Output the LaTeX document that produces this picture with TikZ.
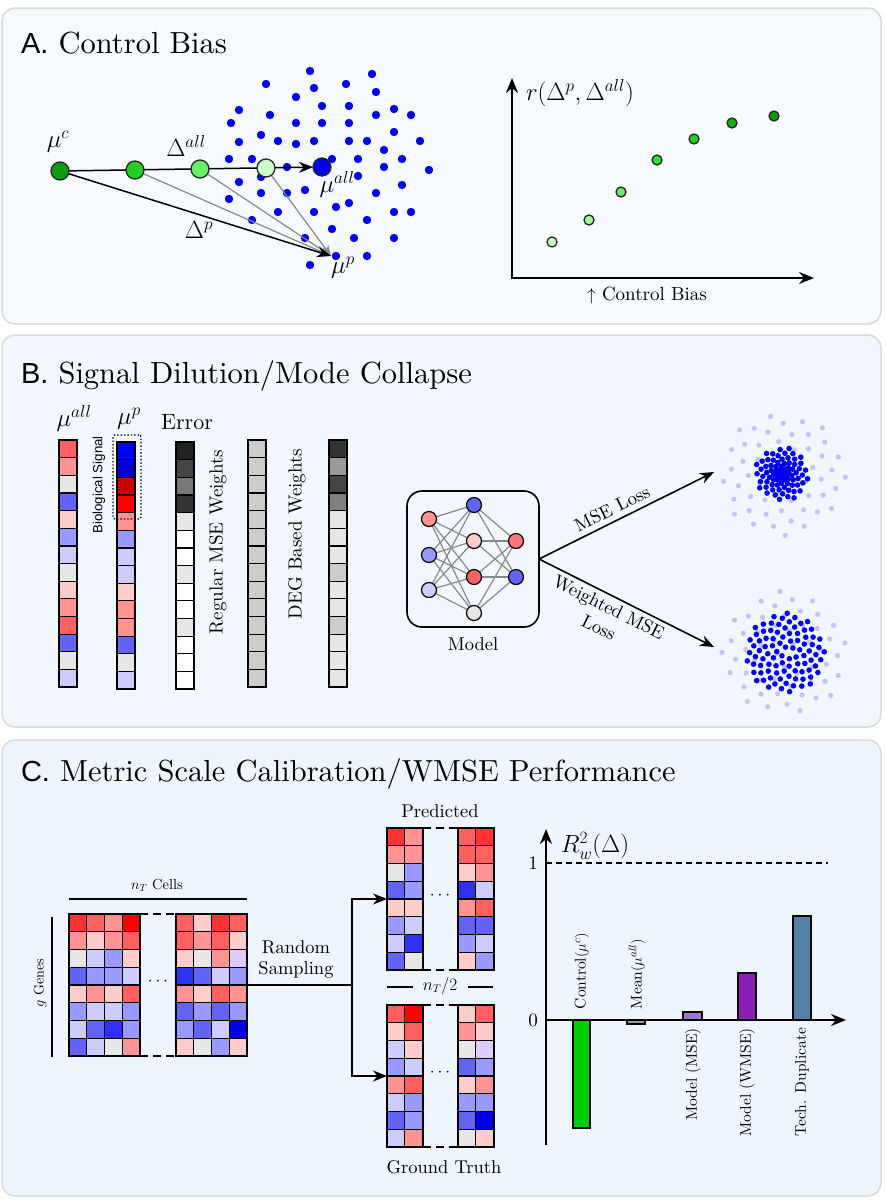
\documentclass[tikz,border=0pt]{standalone}
\usepackage{fontspec}
\setmainfont{lmroman10-regular}[Extension=.otf]
\newfontfamily\hel{Liberation Sans}
\usetikzlibrary{arrows.meta}
\pgfdeclarelayer{back}\pgfdeclarelayer{mid}\pgfsetlayers{back,mid,main}
\definecolor{pA}{HTML}{F6F9FD}
\definecolor{pB}{HTML}{F2F7FD}
\definecolor{pC}{HTML}{EEF5FD}
\definecolor{pE}{HTML}{DADADA}
\definecolor{R1}{HTML}{FF0000}
\definecolor{R2}{HTML}{FF3333}
\definecolor{R3}{HTML}{FF6060}
\definecolor{R4}{HTML}{FF9494}
\definecolor{R5}{HTML}{FFCCCC}
\definecolor{G0}{HTML}{E6E6E6}
\definecolor{B5}{HTML}{CCCCFF}
\definecolor{B4}{HTML}{9999FF}
\definecolor{B3}{HTML}{6363F5}
\definecolor{B2}{HTML}{3030F5}
\definecolor{B1}{HTML}{0000E6}
\definecolor{LV}{HTML}{E0CCFF}
\definecolor{DR}{HTML}{CC0000}
\definecolor{DB}{HTML}{0000CC}
\definecolor{BB}{HTML}{0000FF}
\definecolor{K1}{HTML}{222222}
\definecolor{K2}{HTML}{444444}
\definecolor{K3}{HTML}{777777}
\definecolor{K4}{HTML}{333333}
\definecolor{K5}{HTML}{999999}
\definecolor{K6}{HTML}{808080}
\definecolor{GC}{HTML}{CCCCCC}
\definecolor{WW}{HTML}{FFFFFF}
\definecolor{gr1}{HTML}{CCFFCC}
\definecolor{gr2}{HTML}{99FF99}
\definecolor{gr3}{HTML}{66F066}
\definecolor{gr4}{HTML}{33DD33}
\definecolor{gr5}{HTML}{22D022}
\definecolor{gr6}{HTML}{11B011}
\definecolor{gr7}{HTML}{119911}
\definecolor{dotb}{HTML}{0000EE}
\definecolor{ldot}{HTML}{C3C3F5}
\definecolor{cctrl}{HTML}{00CC00}
\definecolor{cmean}{HTML}{999999}
\definecolor{cmse}{HTML}{9B77D0}
\definecolor{cwmse}{HTML}{8A1FB8}
\definecolor{ctech}{HTML}{5380A8}
\definecolor{edgeg}{HTML}{888888}
\newcommand\fsz[2]{\fontsize{#1}{#2}\selectfont}
% column of cells: x, y, list
\newcommand\colcells[3]{%
  \foreach \cc [count=\k from 0] in {#3} {%
    \filldraw[fill=\cc, draw=black, line width=1.2pt] (#1,{#2+\k*17.65}) rectangle ++(18,17.65);}}
% heat block: x, y, rows
\newcommand\heatblock[3]{%
  \foreach \row [count=\r from 0] in {#3} {%
    \foreach \cc [count=\k from 0] in \row {%
      \filldraw[fill=\cc, draw=black, line width=1.2pt] ({#1+\k*17.75},{#2+\r*17.75}) rectangle ++(17.75,17.75);}}}
\begin{document}
\begin{tikzpicture}[x=1pt,y=-1pt,
  every node/.style={inner sep=0pt, outer sep=0pt},
  panel/.style={draw=pE, line width=1.5pt, rounded corners=13pt},
  arr/.style={line width=1.6pt, -{Stealth[length=14pt,width=11pt]}},
  garr/.style={line width=1.2pt, draw=edgeg, -{Stealth[length=11pt,width=9pt]}},
  axis/.style={line width=1.8pt, {Stealth[length=15pt,width=12pt]}-{Stealth[length=15pt,width=12pt]}},
  gnode/.style={circle, draw=black!85, line width=1.3pt, minimum size=18pt},
  pnode/.style={circle, draw=black!85, line width=1.3pt, minimum size=10pt},
  neuron/.style={circle, draw=black, line width=1.2pt, minimum size=15pt},
  colbox/.style={draw=black, line width=1.8pt, minimum width=18pt, minimum height=247pt},
  hbox/.style={draw=black, line width=2pt, minimum height=142pt},
  title/.style={anchor=base west, font=\fsz{30.5}{34}},
  lab/.style={font=\fsz{18.5}{21}},
  blab/.style={font=\fsz{15.5}{18}, rotate=90},
  dashln/.style={line width=2pt, dash pattern=on 8pt off 5pt},
]
\useasboundingbox (0,0) rectangle (884,1200);
\begin{pgfonlayer}{back}
\fill[white] (0,0) rectangle (884,1200);
\filldraw[panel, fill=pA] (2,8) rectangle (881,324);
\filldraw[panel, fill=pB] (2,335) rectangle (881,727);
\filldraw[panel, fill=pC] (2,740) rectangle (881,1196);
% panel A blue cloud
\foreach \x/\y in {310/71,372/74,266/84,314/88,346/84,376/92,296/97,239/110,322/106,349/106,270/115,376/115,394/109,411/115,231/123,296/123,322/123,349/123,394/132,239/142,261/135,278/141,296/144,314/141,349/141,367/141,420/141,384/150,229/159,252/159,332/159,358/159,402/159,384/167,429/170,287/167,261/177,358/176,239/182,305/190,261/193,287/193,376/193,402/185,229/199,336/207,349/203,278/212,314/212,394/212,411/212,252/220,367/220,332/229,305/238,354/238,394/238,336/256,367/256,310/265}
  \fill[dotb] (\x,\y) circle (4.2pt);
% panel B clouds
\foreach \i in {1,...,56} {
  \pgfmathsetmacro\rr{63*sqrt(\i/56)}
  \pgfmathsetmacro\aa{\i*137.508}
  \fill[ldot] ({783+\rr*cos(\aa)},{474+\rr*sin(\aa)}) circle (2.6pt);
  \fill[ldot] ({785+\rr*cos(\aa+40)},{653+\rr*sin(\aa+40)}) circle (2.6pt);
}
\foreach \i in {1,...,80} {
  \pgfmathsetmacro\rr{27*(\i/80)^0.75}
  \pgfmathsetmacro\aa{\i*137.508}
  \fill[dotb] ({782+\rr*cos(\aa)},{474+\rr*sin(\aa)}) circle (2.8pt);
}
\foreach \i in {1,...,92} {
  \pgfmathsetmacro\ra{40*sqrt(\i/92)}
  \pgfmathsetmacro\aa{\i*137.508}
  \fill[dotb] ({785+\ra*cos(\aa)},{653+\ra*sin(\aa)}) circle (2.8pt);
}
\end{pgfonlayer}

% ---------- Panel A ----------
\node[title] (tA) at (21,53) {{\hel\fsz{29}{34}A.} Control Bias};
\node[gnode, fill=gr7] (muc) at (60,171) {};
\node[gnode, fill=gr5] (c2) at (135,170) {};
\node[gnode, fill=gr3] (c3) at (200,169) {};
\node[gnode, fill=gr1] (c4) at (266,168) {};
\node[circle, draw=black!85, line width=1.3pt, minimum size=18pt, fill=dotb] (muall) at (322,167) {};
\coordinate (mup) at (331,256);
\begin{pgfonlayer}{mid}
\draw[garr] (c2) -- (mup);
\draw[garr] (c3) -- (mup);
\draw[garr] (c4) -- (mup);
\draw[arr, line width=1.5pt] (muc) -- (mup);
\draw[arr, line width=1.5pt] (muc) -- (muall);
\end{pgfonlayer}
\node[font=\fsz{23}{25}] (lmuc) at (58,142) {$\mu^c$};
\node[font=\fsz{23}{25}] (ldall) at (186,146) {$\Delta^{all}$};
\node[font=\fsz{23}{25}] (ldp) at (199,230) {$\Delta^{p}$};
\node[font=\fsz{23}{25}] (lmuall) at (337,184) {$\mu^{all}$};
\node[font=\fsz{23}{25}] (lmup) at (343,268) {$\mu^{p}$};

\coordinate (aO) at (512,278);
\coordinate (aY) at (512,78);
\coordinate (aX) at (814,278);
\draw[axis] (aY) -- (aO) -- (aX);
\node[anchor=west, font=\fsz{25}{27}] (lr) at (526,93) {$r(\Delta^p,\Delta^{all})$};
\node[font=\fsz{19}{22}] (lcb) at (647,295) {$\uparrow$ Control Bias};
\node[pnode, fill=gr1] (p1) at (552,242) {};
\node[pnode, fill=gr2] (p2) at (589,220) {};
\node[pnode, fill=gr3] (p3) at (621,192) {};
\node[pnode, fill=gr4] (p4) at (657,160) {};
\node[pnode, fill=gr5] (p5) at (694,139) {};
\node[pnode, fill=gr6] (p6) at (732,123) {};
\node[pnode, fill=gr7] (p7) at (774,116) {};

% ---------- Panel B ----------
\node[title] (tB) at (21,383) {{\hel\fsz{29}{34}B.} Signal Dilution/Mode Collapse};
\node[font=\fsz{23}{25}] (lall) at (74,418) {$\mu^{all}$};
\node[font=\fsz{23}{25}] (lp) at (129,419) {$\mu^{p}$};
\node[anchor=base, font=\fsz{22}{24}] (lerr) at (187,429) {Error};
\begin{pgfonlayer}{mid}
\colcells{59}{440}{R3,R4,G0,B3,R5,B4,B5,G0,R5,R4,R3,B3,G0,B5}
\colcells{117}{442}{BB,DB,DR,R1,R4,B4,B5,B5,R5,R4,R4,B3,G0,B5}
\colcells{176}{442}{K1,K2,K3,K4,G0,WW,WW,G0,WW,WW,G0,WW,WW,WW}
\colcells{248}{440}{GC,GC,GC,GC,GC,GC,GC,GC,GC,GC,GC,GC,GC,GC}
\colcells{329}{440}{K4,K5,K2,K6,G0,G0,G0,GC,G0,G0,GC,G0,G0,G0}
\end{pgfonlayer}
\node[colbox] (cAll) at (68,563.5) {};
\node[colbox] (cP) at (126,565.5) {};
\node[colbox] (cErr) at (185,565.5) {};
\node[colbox] (cReg) at (257,563.5) {};
\node[colbox] (cDeg) at (338,563.5) {};
\node[draw, dotted, line width=1.4pt, minimum width=28pt, minimum height=84pt, rounded corners=2pt] (bio) at (127,477) {};
\node[rotate=90, font=\hel\fsz{13.3}{15}] (lbio) at (99,485) {Biological Signal};
\node[rotate=90, font=\fsz{19}{22}] (lreg) at (218,542) {Regular MSE Weights};
\node[rotate=90, font=\fsz{19}{22}] (ldeg) at (297,534) {DEG Based Weights};

% model
\node[draw=black, line width=1.6pt, rounded corners=15pt, minimum width=132pt, minimum height=136pt] (mbox) at (473,559) {};
\node[neuron, fill=R4] (n11) at (429,519) {};
\node[neuron, fill=B4] (n12) at (429,555) {};
\node[neuron, fill=B5] (n13) at (429,590) {};
\node[neuron, fill=B3] (n21) at (474,505) {};
\node[neuron, fill=R5] (n22) at (474,541) {};
\node[neuron, fill=R3] (n23) at (474,577) {};
\node[neuron, fill=G0] (n24) at (474,613) {};
\node[neuron, fill=R3!85!white] (n31) at (516,541) {};
\node[neuron, fill=B3] (n32) at (516,577) {};
\begin{pgfonlayer}{mid}
\foreach \a in {n11,n12,n13} \foreach \b in {n21,n22,n23,n24} \draw[edgeg, line width=1.2pt] (\a) -- (\b);
\foreach \a in {n21,n22,n23,n24} \foreach \b in {n31,n32} \draw[edgeg, line width=1.2pt] (\a) -- (\b);
\end{pgfonlayer}
\node[lab] (lmodel) at (473,644) {Model};
\coordinate (tipU) at (714,472);
\coordinate (tipL) at (714,647);
\draw[arr] (mbox.east) -- node[sloped, above=6pt, pos=0.45, lab] {MSE Loss} (tipU);
\draw[arr] (mbox.east) -- node[sloped, below=5pt, pos=0.43, font=\fsz{18.5}{22.5}, align=center] {Weighted MSE\\Loss} (tipL);

% ---------- Panel C ----------
\node[title] (tC) at (21,781) {{\hel\fsz{29}{34}C.} Metric Scale Calibration/WMSE Performance};
\begin{pgfonlayer}{mid}
\heatblock{69}{914}{{R2,R3,R4,R1},{R4,R5,R4,R3},{G0,B5,B4,R5},{B3,B4,B4,B5},{R5,R4,R5,R3},{B4,B5,B5,B4},{B5,B3,B2,B4},{B3,B5,G0,R4}}
\heatblock{176}{914}{{R3,R5,R2,R3},{R3,R4,R3,R5},{R5,G0,R4,LV},{B2,B3,B5,B4},{R4,R5,R3,R4},{B3,B4,B3,B4},{B4,B3,B5,B1},{R5,G0,B4,R5}}
\heatblock{387}{828}{{R2,R4},{R4,R4},{G0,B4},{B3,B4},{R5,R5},{B4,B5},{B5,B2},{B3,G0}}
\heatblock{458}{828}{{R3,R2},{R3,R3},{R5,R4},{B2,B5},{R4,R3},{B3,B3},{B4,B5},{R5,B4}}
\heatblock{387}{1005}{{R3,R1},{R5,R3},{B5,R5},{B4,B5},{R4,R3},{B5,B4},{B3,B4},{B5,R4}}
\heatblock{458}{1005}{{R5,R3},{R4,R5},{G0,LV},{B3,B4},{R5,R4},{B4,B4},{B3,B1},{G0,R5}}
\end{pgfonlayer}
\node[hbox, minimum width=71pt] (hL) at (104.5,985) {};
\node[hbox, minimum width=71pt] (hR) at (211.5,985) {};
\node[hbox, minimum width=35.5pt] (pL) at (404.75,899) {};
\node[hbox, minimum width=35.5pt] (pR) at (475.75,899) {};
\node[hbox, minimum width=35.5pt] (gL) at (404.75,1076) {};
\node[hbox, minimum width=35.5pt] (gR) at (475.75,1076) {};
\draw[dashln] (hL.north east) -- (hR.north west);
\draw[dashln] (hL.south east) -- (hR.south west);
\draw[dashln] (pL.north east) -- (pR.north west);
\draw[dashln] (pL.south east) -- (pR.south west);
\draw[dashln] (gL.north east) -- (gR.north west);
\draw[dashln] (gL.south east) -- (gR.south west);
\node[font=\fsz{18}{20}] (dotsH) at (158,982) {$\cdots$};
\node[font=\fsz{18}{20}] (dotsP) at (440,896) {$\cdots$};
\node[font=\fsz{18}{20}] (dotsG) at (440,1073) {$\cdots$};
\coordinate (ntL) at (69,899);
\coordinate (ntR) at (247,899);
\draw[line width=2pt] (ntL) -- (ntR);
\node[font=\fsz{14.5}{16}] (lnt) at (157,885) {$n_T$ Cells};
\coordinate (gT) at (52,917);
\coordinate (gB) at (52,1057);
\draw[line width=2pt] (gT) -- (gB);
\node[rotate=90, font=\fsz{14}{16}] (lg) at (40,983) {$g$ Genes};
\node[lab, align=center] (lrs) at (296,959) {Random\\Sampling};
\coordinate (split) at (352,985);
\draw[line width=1.6pt] (hR.east) -- (split);
\draw[arr] (split) |- (pL.west);
\draw[arr] (split) |- (gL.west);
\node[lab] (lpred) at (440,811) {Predicted};
\node[lab] (lgt) at (444,1167) {Ground Truth};
\node[font=\fsz{16}{18}] (lhalf) at (440,986) {$n_T/2$};
\coordinate (hl1) at (387,987); \coordinate (hl2) at (413,987);
\coordinate (hr1) at (468,987); \coordinate (hr2) at (493,987);
\draw[line width=1.8pt] (hl1) -- (hl2);
\draw[line width=1.8pt] (hr1) -- (hr2);

% bar chart
\begin{pgfonlayer}{mid}
\filldraw[fill=cctrl, line width=1.3pt] (573,1020) rectangle (590,1128);
\filldraw[fill=cmean, line width=1.3pt] (627,1020) rectangle (645,1024);
\filldraw[fill=cmse, line width=1.3pt] (683,1012) rectangle (702,1020);
\filldraw[fill=cwmse, line width=1.3pt] (738,973) rectangle (756,1020);
\filldraw[fill=ctech, line width=1.3pt] (793,916) rectangle (811,1020);
\end{pgfonlayer}
\coordinate (bY0) at (546,1145);
\coordinate (bY1) at (546,829);
\coordinate (bX0) at (546,1020);
\coordinate (bX1) at (846,1020);
\coordinate (one0) at (546,863);
\coordinate (one1) at (828,863);
\draw[line width=1.8pt, -{Stealth[length=15pt,width=12pt]}] (bY0) -- (bY1);
\draw[line width=1.8pt, -{Stealth[length=15pt,width=12pt]}] (bX0) -- (bX1);
\draw[line width=1.4pt, dash pattern=on 6pt off 4pt] (one0) -- (one1);
\node[font=\fsz{19}{22}] (l1) at (533,863) {1};
\node[font=\fsz{19}{22}] (l0) at (533,1020) {0};
\node[font=\fsz{24}{26}] (lR2) at (595,846) {$R^2_w(\Delta)$};
\node[blab, anchor=west] (bl1) at (582,1009) {Control$(\mu^c)$};
\node[blab, anchor=west] (bl2) at (637,1009) {Mean$(\mu^{all})$};
\node[blab, anchor=east] (bl3) at (693,1028) {Model (MSE)};
\node[blab, anchor=east] (bl4) at (747,1028) {Model (WMSE)};
\node[blab, anchor=east] (bl5) at (802,1028) {Tech. Duplicate};
\end{tikzpicture}
\end{document}
